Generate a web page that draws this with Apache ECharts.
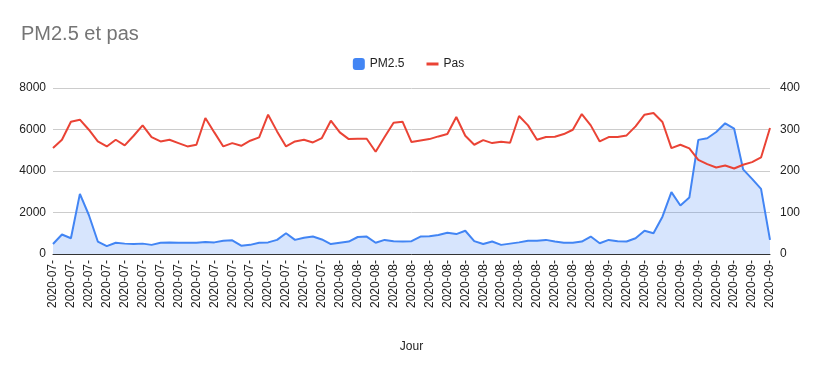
<!DOCTYPE html>
<html><head><meta charset="utf-8">
<script src="https://cdn.jsdelivr.net/npm/echarts@6/dist/echarts.min.js"></script>
<style>html,body{margin:0;padding:0;background:#fff}#c{width:817px;height:371px}</style>
</head><body><div id="c"></div>
<script>
// categories: daily dates 2020-07-01 .. 2020-09-19
var days = [];
(function(){
  var months = [['07',31],['08',31],['09',19]];
  months.forEach(function(m){ for (var d=1; d<=m[1]; d++) days.push('2020-'+m[0]+'-'+(d<10?'0'+d:d)); });
})();
var pm25 = [24,47,38,145,94,30,19,27,25,24,25,22,27,28,
  27,27,27,29,28,32,33,20,22,27,28,34,50,
  34,39,42,35,24,27,30,41,42,27,34,31,30,
  31,42,43,46,51,48,56,31,24,30,22,25,28,
  32,32,34,30,27,27,30,42,26,34,31,30,38,
  56,50,90,149,117,136,275,279,294,315,302,204,181,157,34];
var pas = [5104,5506,6376,6472,5989,5426,5184,5506,5233,5700,6199,5635,5426,5506,
  5345,5184,5265,6553,5860,5184,5345,5216,5458,5619,6714,5909,5184,
  5426,5506,5377,5587,6424,5860,5538,5554,5554,4927,5635,6327,6376,
  5394,5474,5538,5667,5780,6601,5700,5265,5490,5345,5410,5361,6650,
  6199,5506,5635,5651,5780,5989,6746,6199,5426,5635,5635,5716,6150,
  6714,6794,6360,5104,5265,5088,4540,4331,4170,4266,4122,4299,4428,4653,6070];
var leftTicks = [0,2000,4000,6000,8000];
var rightTicks = [0,100,200,300,400];

var chart = echarts.init(document.getElementById('c'));
var font = 'Arial, "Liberation Sans", sans-serif';
chart.setOption({
  animation:false,
  title:{text:'PM2.5 et pas',left:16,top:19,textStyle:{color:'#757575',fontSize:20,fontWeight:'normal',fontFamily:font}},
  legend:{top:53,left:'center',itemGap:22,itemWidth:12,itemHeight:12,
    textStyle:{color:'#222',fontSize:12,fontFamily:font},
    data:[{name:'PM2.5',icon:'roundRect'},{name:'Pas',icon:'path://M0,4 L12,4 L12,7 L0,7 Z'}]},
  grid:{left:53,right:47,top:88,bottom:117},
  xAxis:{type:'category',data:days,boundaryGap:false,
    name:'Jour',nameLocation:'middle',nameGap:87,nameTextStyle:{color:'#222',fontSize:12,fontFamily:font},
    axisLine:{lineStyle:{color:'#333',width:1}},axisTick:{show:false},
    axisLabel:{interval:1,rotate:90,color:'#222',fontSize:12,fontFamily:font,margin:6,
      formatter:function(v){return v.slice(0,8);}}},
  yAxis:[
    {type:'value',min:leftTicks[0],max:leftTicks[leftTicks.length-1],interval:2000,
      axisLine:{show:false},axisTick:{show:false},
      axisLabel:{color:'#222',fontSize:12,fontFamily:font,margin:7,formatter:function(v){return String(v);}},
      splitLine:{lineStyle:{color:'#ccc'}}},
    {type:'value',min:rightTicks[0],max:rightTicks[rightTicks.length-1],interval:100,
      axisLine:{show:false},axisTick:{show:false},
      axisLabel:{color:'#222',fontSize:12,fontFamily:font,margin:10,formatter:function(v){return String(v);}},
      splitLine:{show:false}}
  ],
  series:[
    {name:'PM2.5',type:'line',yAxisIndex:1,data:pm25,symbol:'none',
      lineStyle:{color:'#4285f4',width:2},itemStyle:{color:'#4285f4'},
      areaStyle:{color:'rgba(66,133,244,0.3)'}},
    {name:'Pas',type:'line',yAxisIndex:0,data:pas,symbol:'none',
      lineStyle:{color:'#ea4335',width:2},itemStyle:{color:'#ea4335'}}
  ]
});
</script></body></html>
